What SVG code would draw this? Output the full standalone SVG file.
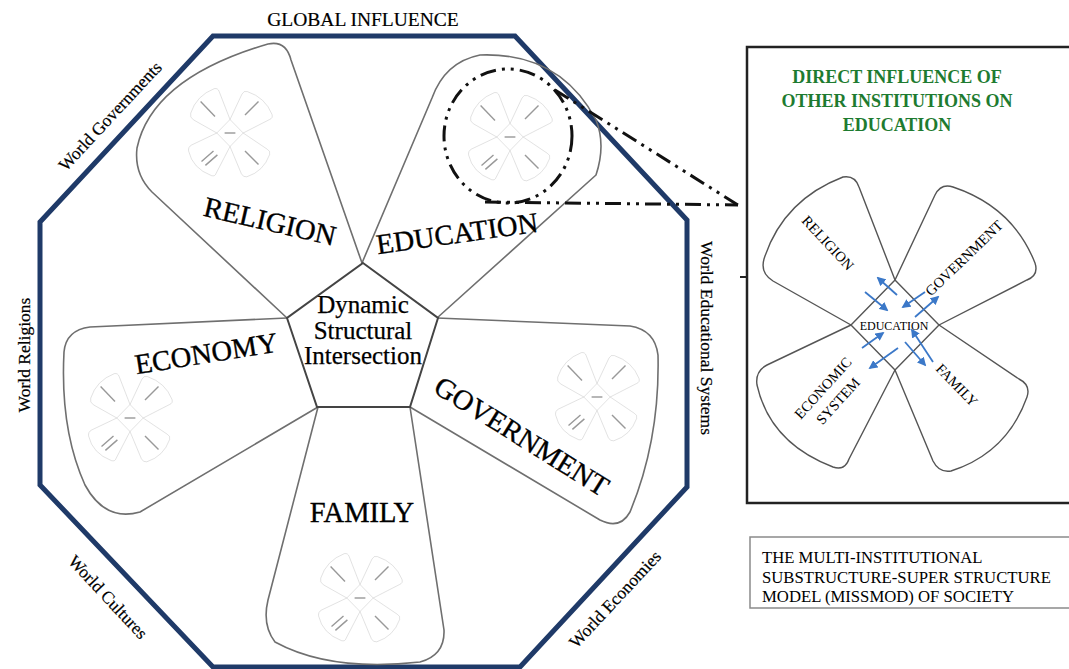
<svg xmlns="http://www.w3.org/2000/svg" xmlns:xlink="http://www.w3.org/1999/xlink" width="1069" height="669" viewBox="0 0 1069 669">
<style>
.petal{fill:none;stroke:#6f6f6f;stroke-width:1.6;stroke-linejoin:round}
.lbl{font-family:"Liberation Serif","Times New Roman",serif;fill:#000;text-anchor:middle}
.big{font-size:28.5px;stroke:#000;stroke-width:0.35}
.side{font-size:17.5px;stroke:#000;stroke-width:0.2}
.pl{font-size:14.5px}
.dd{fill:none;stroke:#111;stroke-width:3;stroke-dasharray:16 6 3 6 3 6}
.green{font-family:"Liberation Serif","Times New Roman",serif;font-weight:bold;font-size:18px;fill:#1e7b30;text-anchor:middle}
.cap{font-family:"Liberation Serif","Times New Roman",serif;font-size:16.7px;fill:#000}
.arr{stroke:#3b78c8;stroke-width:1.8;fill:none;marker-end:url(#ah)}
</style>
<defs>
<marker id="ah" viewBox="0 0 10 10" refX="8" refY="5" markerWidth="5" markerHeight="5" orient="auto">
<path d="M0,0 L10,5 L0,10 Z" fill="#3b78c8"/>
</marker>
<g id="xshape">
<path d="M -44,0 L -122,-44 Q -135,-52 -131,-66 Q -112,-125 -52,-148 Q -40,-150 -36,-138 L 0,-45"/>
<path d="M 0,-45 L 40,-130 Q 46,-142 58,-138 Q 118,-118 140,-62 Q 144,-50 132,-45 L 44,0"/>
<path d="M -44,0 L -128,40 Q -140,46 -138,60 Q -125,118 -62,142 Q -50,146 -46,134 L 0,45"/>
<path d="M 0,45 L 38,136 Q 44,148 56,146 Q 112,128 132,72 Q 136,60 124,54 L 44,0"/>
<path d="M 0,-45 L 44,0 L 0,45 L -44,0 Z"/>
</g>
<g id="mini">
<use xlink:href="#xshape" fill="none" stroke="#adadad" stroke-width="1.2" vector-effect="non-scaling-stroke"/>
<g stroke="#999" stroke-width="1.4" fill="none">
<path d="M -98,-105 L -50,-55" vector-effect="non-scaling-stroke"/>
<path d="M 50,-60 L 95,-105" vector-effect="non-scaling-stroke"/>
<path d="M -95,95 L -55,60 M -82,108 L -42,73" vector-effect="non-scaling-stroke"/>
<path d="M 50,60 L 95,105" vector-effect="non-scaling-stroke"/>
<path d="M -18,0 L 18,0" vector-effect="non-scaling-stroke"/>
</g>
</g>
</defs>
<rect width="1069" height="669" fill="#fff"/>

<g id="octagon">
<path d="M 213,36 L 515,36 L 687,220 L 687,487 L 520,667 L 213,667 L 40,485 L 40,222 Z" fill="none" stroke="#1f3a68" stroke-width="5" stroke-linejoin="miter"/>
<text class="lbl" x="363" y="26" style="font-size:19.5px;stroke:#000;stroke-width:0.2">GLOBAL INFLUENCE</text>
<text class="lbl side" transform="translate(110,116) rotate(-47)" y="6">World Governments</text>
<text class="lbl side" transform="translate(24,355) rotate(-90)" y="6">World Religions</text>
<text class="lbl side" transform="translate(707,338) rotate(90)" y="6">World Educational Systems</text>
<text class="lbl side" transform="translate(108,597) rotate(47)" y="6">World Cultures</text>
<text class="lbl side" transform="translate(615,599) rotate(-47)" y="6">World Economies</text>
</g>

<g id="religion">
<path class="petal" d="M 287,318 L 152,192 Q 134,174 137,148 Q 152,78 268,44 Q 286,40 291,60 L 362,263"/>
<use xlink:href="#mini" transform="translate(230,133) scale(0.3)"/>
<text class="lbl big" transform="translate(270,221) rotate(13)" y="10">RELIGION</text>
</g>

<g id="education">
<path class="petal" d="M 362,263 L 432,98 Q 445,62 480,55 Q 560,52 596,120 Q 606,145 596,175 L 437,318"/>
<use xlink:href="#mini" transform="translate(510,137) scale(0.3)"/>
<text class="lbl big" transform="translate(457,233) rotate(-8)" y="10">EDUCATION</text>
</g>

<g id="economy">
<path class="petal" d="M 287,318 L 90,327 Q 66,330 64,352 Q 60,430 85,485 Q 105,522 140,512 L 318,407"/>
<use xlink:href="#mini" transform="translate(130,418) scale(0.3)"/>
<text class="lbl big" transform="translate(206,353) rotate(-9)" y="10">ECONOMY</text>
</g>

<g id="government">
<path class="petal" d="M 437,318 L 630,326 Q 655,330 658,355 Q 660,440 630,512 Q 620,530 600,520 L 410,407"/>
<use xlink:href="#mini" transform="translate(597,397) scale(0.3)"/>
<text class="lbl big" transform="translate(522,436) rotate(32)" y="10">GOVERNMENT</text>
</g>

<g id="family">
<path class="petal" d="M 318,407 L 268,600 Q 262,625 275,642 Q 330,672 420,662 Q 445,655 444,630 L 410,407"/>
<use xlink:href="#mini" transform="translate(360,598) scale(0.3)"/>
<text class="lbl big" x="362" y="522">FAMILY</text>
</g>

<g id="center">
<path d="M 363,263 L 438,318 L 410,407 L 317,407 L 287,318 Z" fill="#fff" stroke="#444" stroke-width="2" stroke-linejoin="miter"/>
<text class="lbl" style="font-size:25px;stroke:#000;stroke-width:0.25" x="363" y="313">Dynamic</text>
<text class="lbl" style="font-size:25px;stroke:#000;stroke-width:0.25" x="363" y="339">Structural</text>
<text class="lbl" style="font-size:25px;stroke:#000;stroke-width:0.25" x="363" y="364">Intersection</text>
</g>

<g id="connectors">
<ellipse class="dd" cx="508" cy="136" rx="64" ry="67"/>
<path class="dd" d="M 555,90 L 738,205"/>
<path class="dd" d="M 485,202 L 738,205"/>
<path d="M 740,277 L 748,277" stroke="#222" stroke-width="2"/>
</g>

<g id="panel">
<rect x="747" y="47" width="340" height="456" fill="none" stroke="#222" stroke-width="2.5"/>
<text class="green" x="897" y="83">DIRECT INFLUENCE OF</text>
<text class="green" x="897" y="107">OTHER INSTITUTIONS ON</text>
<text class="green" x="897" y="131">EDUCATION</text>
<use xlink:href="#xshape" transform="translate(895,325)" fill="none" stroke="#555" stroke-width="1.4"/>
<text class="lbl" style="font-size:12px" x="894" y="330">EDUCATION</text>
<text class="lbl pl" transform="translate(828,243) rotate(47)" y="5">RELIGION</text>
<text class="lbl pl" transform="translate(964,258) rotate(-44)" y="5">GOVERNMENT</text>
<text class="lbl pl" transform="translate(957,385) rotate(46)" y="5">FAMILY</text>
<text class="lbl pl" transform="translate(823,388) rotate(-48)" y="5">ECONOMIC</text>
<text class="lbl pl" transform="translate(838,401) rotate(-48)" y="5">SYSTEM</text>
<path class="arr" d="M 897,295 L 878,278"/>
<path class="arr" d="M 865,292 L 887,310"/>
<path class="arr" d="M 925,292 L 903,307"/>
<path class="arr" d="M 915,317 L 938,297"/>
<path class="arr" d="M 862,348 L 883,333"/>
<path class="arr" d="M 898,348 L 870,368"/>
<path class="arr" d="M 933,362 L 912,330"/>
<path class="arr" d="M 905,342 L 925,365"/>
</g>

<g id="caption">
<rect x="750" y="537" width="340" height="71" fill="none" stroke="#8a8a8a" stroke-width="1.5"/>
<text class="cap" x="762" y="563">THE MULTI-INSTITUTIONAL</text>
<text class="cap" x="762" y="583">SUBSTRUCTURE-SUPER STRUCTURE</text>
<text class="cap" x="762" y="602">MODEL (MISSMOD) OF SOCIETY</text>
</g>
</svg>
